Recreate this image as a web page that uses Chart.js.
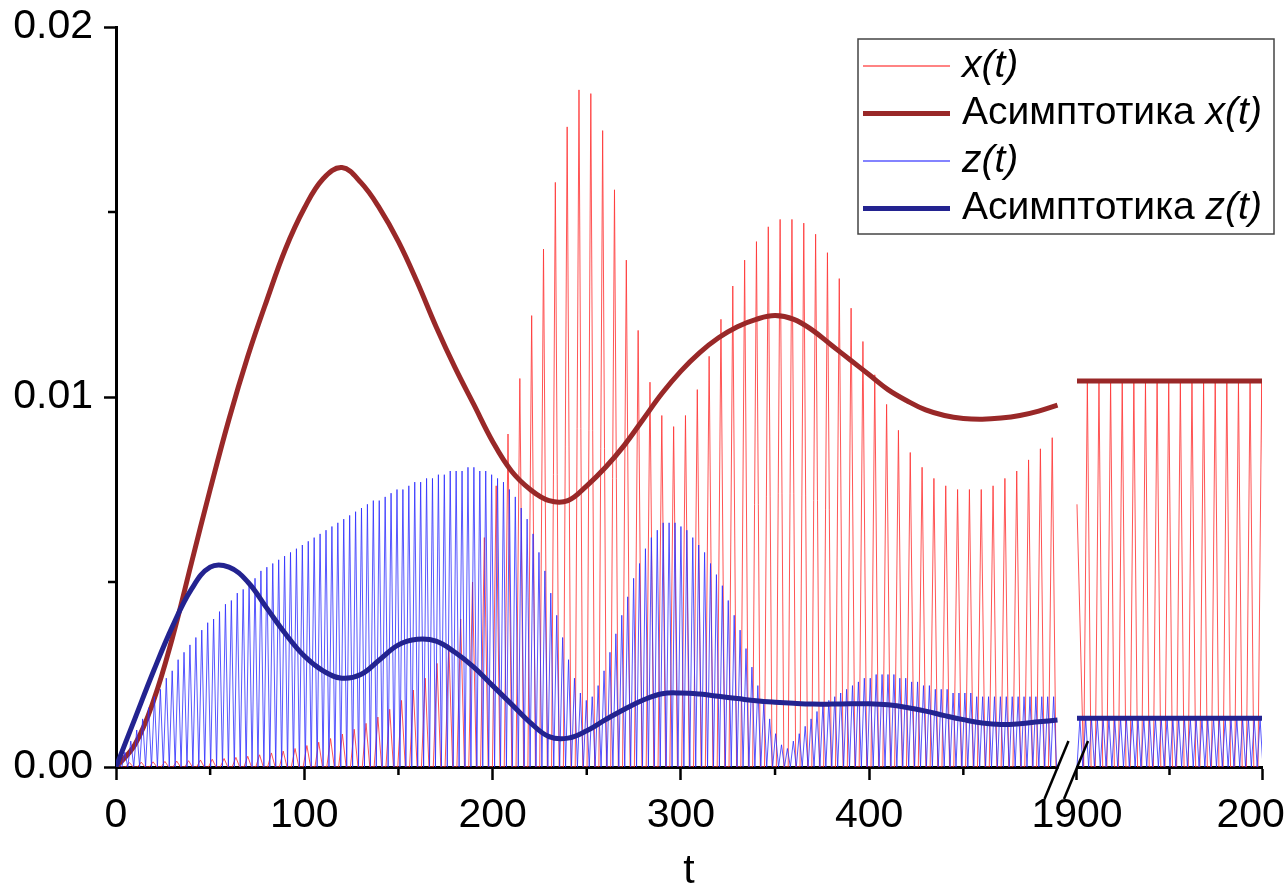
<!DOCTYPE html>
<html>
<head>
<meta charset="utf-8">
<script src="https://cdn.jsdelivr.net/npm/chart.js@4.4.1/dist/chart.umd.min.js"></script>
<style>
  html, body { margin: 0; padding: 0; background: #fff; }
</style>
</head>
<body>
<canvas id="chart" width="1286" height="892"></canvas>
<script>
/* data */

// x(t): one peak per period on 0..500 and on 1900..2000
const X_PERIOD = 6.283;
const X_FIRST_PEAK = 7.13;
const xPeaksLeft = [
  0.00012, 0.00013, 0.00014, 0.00015, 0.00016, 0.00017, 0.00019, 0.00021, 0.00023, 0.00026,
  0.00029, 0.00033, 0.00038, 0.00043, 0.00050, 0.00058, 0.00067, 0.00077, 0.00089, 0.00102,
  0.00118, 0.00135, 0.00156, 0.00180, 0.00208, 0.00240, 0.00280, 0.0033, 0.0040, 0.0050,
  0.0062, 0.0076, 0.0090, 0.0105, 0.0122, 0.0140, 0.0158, 0.0173, 0.0183, 0.0182,
  0.0172, 0.0156, 0.0137, 0.0118, 0.0104, 0.0095, 0.0092, 0.0095, 0.0102, 0.0111,
  0.0121, 0.0130, 0.0137, 0.0142, 0.0146, 0.0148, 0.0148, 0.0147, 0.0144, 0.0139,
  0.0132, 0.0124, 0.0115, 0.0106, 0.0098, 0.0091, 0.0085, 0.0081, 0.0078, 0.0076,
  0.0075, 0.0075, 0.0075, 0.0076, 0.0078, 0.0080, 0.0083, 0.0086, 0.0089
];
const X_RIGHT_START = 0.0071;
const X_RIGHT_FIRST_PEAK = 1905.6;
const xPeaksRight = [
  0.0104, 0.0104, 0.0104, 0.0104, 0.0104, 0.0104, 0.0104, 0.0104,
  0.0104, 0.0104, 0.0104, 0.0104, 0.0104, 0.0104, 0.0104, 0.0104
];

// z(t): one peak per period
const Z_PERIOD = 3.1416;
const zPeaksLeft = [
  0.0001, 0.0004, 0.0007, 0.0010, 0.0013, 0.0016, 0.0019, 0.0021, 0.0024, 0.0026,
  0.0029, 0.0031, 0.0033, 0.0035, 0.0037, 0.0039, 0.0040, 0.0042, 0.0044, 0.0045,
  0.0047, 0.0048, 0.0050, 0.0051, 0.0053, 0.0054, 0.0055, 0.0056, 0.0057, 0.0058,
  0.0059, 0.0060, 0.0061, 0.0062, 0.0063, 0.0064, 0.0065, 0.0066, 0.0067, 0.0068,
  0.0069, 0.0070, 0.0071, 0.0072, 0.0072, 0.0073, 0.0074, 0.0075, 0.0075, 0.0076,
  0.0077, 0.0077, 0.0078, 0.0078, 0.0079, 0.0079, 0.0080, 0.0080, 0.0080, 0.0081,
  0.0081, 0.0080, 0.0080, 0.0079, 0.0078, 0.0077, 0.0075, 0.0073, 0.0070, 0.0067,
  0.0063, 0.0058, 0.0053, 0.0047, 0.0041, 0.0035, 0.0029, 0.0024, 0.0020, 0.0018,
  0.0019, 0.0022, 0.0026, 0.0031, 0.0036, 0.0041, 0.0046, 0.0051, 0.0055, 0.0059,
  0.0062, 0.0064, 0.0066, 0.0066, 0.0066, 0.0065, 0.0064, 0.0062, 0.0060, 0.0058,
  0.0055, 0.0052, 0.0049, 0.0045, 0.0041, 0.0037, 0.0032, 0.0027, 0.0022, 0.0017,
  0.0013, 0.0009, 0.0006, 0.0005, 0.0007, 0.0009, 0.0011, 0.0013, 0.0015, 0.0017,
  0.0018, 0.0019, 0.0020, 0.0021, 0.0022, 0.0023, 0.0024, 0.0024, 0.0025, 0.0025,
  0.0025, 0.0025, 0.0024, 0.0024, 0.0023, 0.0023, 0.0022, 0.0022, 0.0021, 0.0021,
  0.0021, 0.0020, 0.0020, 0.0020, 0.0020, 0.0019, 0.0019, 0.0019, 0.0019, 0.0019,
  0.0019, 0.0019, 0.0019, 0.0019, 0.0019, 0.0019, 0.0019, 0.0019, 0.0019
];
const zPeaksRight = [
  0.0013, 0.0013, 0.0013, 0.0013, 0.0013, 0.0013, 0.0013, 0.0013,
  0.0013, 0.0013, 0.0013, 0.0013, 0.0013, 0.0013, 0.0013, 0.0013,
  0.0013, 0.0013, 0.0013, 0.0013, 0.0013, 0.0013, 0.0013, 0.0013,
  0.0013, 0.0013, 0.0013, 0.0013, 0.0013, 0.0013, 0.0013, 0.0013
];

// asymptotics, sampled every 10 time units on 0..500
const asymT = [
  0, 10, 20, 30, 40, 50, 60, 70, 80, 90, 100, 110, 120, 130, 140, 150, 160, 170, 180, 190,
  200, 210, 220, 230, 240, 250, 260, 270, 280, 290, 300, 310, 320, 330, 340, 350, 360, 370, 380, 390,
  400, 410, 420, 430, 440, 450, 460, 470, 480, 490, 500
];
const asymXV = [
  0, 0.0006, 0.0018, 0.0035, 0.0055, 0.0075, 0.0094, 0.0111, 0.0126, 0.0140,
  0.0151, 0.0159, 0.0162, 0.0158, 0.0151, 0.0142, 0.0131, 0.0119, 0.0108, 0.0098,
  0.0088, 0.0080, 0.0075, 0.0072, 0.0072, 0.0076, 0.0081, 0.0087, 0.0094, 0.0101,
  0.0107, 0.0112, 0.0116, 0.0119, 0.0121, 0.0122, 0.0121, 0.0118, 0.0114, 0.0110,
  0.0106, 0.0102, 0.0099, 0.00965, 0.0095, 0.00942, 0.0094, 0.00943, 0.0095, 0.00962, 0.00978
];
const asymZV = [
  0, 0.0013, 0.0026, 0.0038, 0.0048, 0.0054, 0.0054, 0.0050, 0.0043, 0.0036,
  0.0030, 0.0026, 0.0024, 0.0025, 0.0029, 0.0033, 0.00345, 0.0034, 0.0031, 0.0027,
  0.0022, 0.0017, 0.0012, 0.00082, 0.00078, 0.00098, 0.00128, 0.00156, 0.00181, 0.00198,
  0.00200, 0.00197, 0.00191, 0.00185, 0.00179, 0.00175, 0.00172, 0.00170, 0.00170, 0.00171,
  0.00171, 0.00168, 0.00161, 0.00151, 0.00139, 0.00128, 0.00119, 0.00115, 0.00117, 0.00122, 0.00127
];
const asymRightT = [1900, 2000];
const asymXRight = [0.01043, 0.01043];
const asymZRight = [0.00132, 0.00132];

// ticks
const xMajorTicks = [0, 100, 200, 300, 400, 1900, 2000];
const xMinorTicks = [50, 150, 250, 350, 450, 1950];
const yMajorTicks = [0, 0.01, 0.02];
const yMinorTicks = [0.005, 0.015];

/* broken time axis: 0..500 | 1900..2000 on one linear scale */
const BREAK_AT = 500;
const RIGHT_FROM = 1900;
const axisPos = t => t <= BREAK_AT ? t : 510.36 + (t - RIGHT_FROM) * 0.9825;

const pulses = (peaks, firstPeak, period, halfWidth) => {
  const pts = [];
  peaks.forEach((p, i) => {
    const tc = firstPeak + i * period;
    pts.push({ x: axisPos(tc - halfWidth), y: 0 });
    pts.push({ x: axisPos(tc), y: p });
    pts.push({ x: axisPos(tc + halfWidth), y: 0 });
  });
  return pts;
};

const zigzag = (peaks, start, period) => {
  const pts = [{ x: axisPos(start), y: 0 }];
  peaks.forEach((p, i) => {
    pts.push({ x: axisPos(start + (i + 0.5) * period), y: p });
    pts.push({ x: axisPos(start + (i + 1) * period), y: 0 });
  });
  return pts;
};

const gap = { x: axisPos(505), y: null };

const xSeries = [{ x: 0, y: 0 }]
  .concat(pulses(xPeaksLeft, X_FIRST_PEAK, X_PERIOD, 2.0))
  .concat([gap, { x: axisPos(RIGHT_FROM), y: X_RIGHT_START }])
  .concat(pulses(xPeaksRight, X_RIGHT_FIRST_PEAK, X_PERIOD, 2.0));

const zSeries = zigzag(zPeaksLeft, 0, Z_PERIOD)
  .concat([gap])
  .concat(zigzag(zPeaksRight, RIGHT_FROM, Z_PERIOD));

const asymPoints = (ts, vs) => ts.map((t, i) => ({ x: axisPos(t), y: vs[i] }));
const asymX = asymPoints(asymT, asymXV).concat([gap], asymPoints(asymRightT, asymXRight));
const asymZ = asymPoints(asymT, asymZV).concat([gap], asymPoints(asymRightT, asymZRight));

const FONT = "'Liberation Sans', Arial, sans-serif";

/* minor ticks, axis break and legend */
const extras = {
  id: 'extras',
  afterDraw(chart) {
    const { ctx, scales: { x, y } } = chart;
    const x0 = x.left, y0 = y.bottom;
    ctx.save();
    ctx.strokeStyle = '#000';
    ctx.lineWidth = 2.5;
    xMinorTicks.forEach(t => {
      const px = x.getPixelForValue(axisPos(t));
      ctx.beginPath(); ctx.moveTo(px, y0); ctx.lineTo(px, y0 + 8); ctx.stroke();
    });
    yMinorTicks.forEach(v => {
      const py = y.getPixelForValue(v);
      ctx.beginPath(); ctx.moveTo(x0, py); ctx.lineTo(x0 - 8, py); ctx.stroke();
    });

    // break in the time axis
    const b1 = x.getPixelForValue(axisPos(BREAK_AT));
    const b2 = x.getPixelForValue(axisPos(RIGHT_FROM));
    ctx.fillStyle = '#fff';
    ctx.fillRect(b1 + 1, y0 - 3, b2 - b1 - 2, 7);
    ctx.lineWidth = 2.5;
    [b1, b2].forEach(bx => {
      ctx.beginPath(); ctx.moveTo(bx - 13, y0 + 32); ctx.lineTo(bx + 11, y0 - 26); ctx.stroke();
    });

    // legend
    const bx = 858, by = 39, bw = 416, bh = 195;
    ctx.fillStyle = '#fff';
    ctx.fillRect(bx, by, bw, bh);
    ctx.strokeStyle = '#444';
    ctx.lineWidth = 1.5;
    ctx.strokeRect(bx, by, bw, bh);
    ctx.textBaseline = 'middle';
    chart.data.datasets.forEach((ds, i) => {
      const ry = 66 + i * 47.5;
      ctx.strokeStyle = ds.legendColor || ds.borderColor;
      ctx.lineWidth = ds.borderWidth > 2 ? 5 : 1.5;
      ctx.beginPath(); ctx.moveTo(863, ry); ctx.lineTo(950, ry); ctx.stroke();
      const cut = ds.label.lastIndexOf(' ');
      const plain = cut >= 0 ? ds.label.slice(0, cut + 1) : '';
      const ital = ds.label.slice(cut + 1);
      ctx.fillStyle = '#000';
      ctx.font = '39px ' + FONT;
      ctx.fillText(plain, 962, ry);
      const w = ctx.measureText(plain).width;
      ctx.font = 'italic 39px ' + FONT;
      ctx.fillText(ital, 962 + w, ry);
    });
    ctx.restore();
  }
};

new Chart('chart', {
  type: 'line',
  data: {
    datasets: [
      { label: 'x(t)', data: xSeries, borderColor: 'rgba(255,55,55,0.85)', legendColor: '#ff5a5a', borderWidth: 1, order: 3 },
      { label: 'Асимптотика x(t)', data: asymX, borderColor: '#992828', borderWidth: 5, order: 2, tension: 0.4 },
      { label: 'z(t)', data: zSeries, borderColor: 'rgba(45,45,255,0.8)', legendColor: '#5a5aff', borderWidth: 1, order: 1 },
      { label: 'Асимптотика z(t)', data: asymZ, borderColor: '#232390', borderWidth: 5, order: 0, tension: 0.4 }
    ]
  },
  options: {
    responsive: false,
    animation: false,
    devicePixelRatio: 1,
    spanGaps: false,
    elements: { point: { radius: 0 }, line: { tension: 0 } },
    layout: { padding: { top: 27, right: 24, left: 0, bottom: 0 } },
    plugins: { legend: { display: false }, tooltip: { enabled: false } },
    scales: {
      x: {
        type: 'linear',
        min: 0,
        max: axisPos(2000),
        afterBuildTicks: s => { s.ticks = xMajorTicks.map(t => ({ value: axisPos(t) })); },
        afterFit: s => { s.height = 125; s.paddingLeft = 0; s.paddingRight = 0; },
        ticks: {
          autoSkip: false, maxRotation: 0, padding: 11, color: '#000',
          font: { family: FONT, size: 41 },
          callback: (v, i) => String(xMajorTicks[i])
        },
        grid: { drawOnChartArea: false, tickLength: 13, tickWidth: 2.5, tickColor: '#000' },
        border: { color: '#000', width: 3 },
        title: { display: true, text: 't', color: '#000', font: { family: FONT, size: 41, lineHeight: 1 }, padding: { top: 0, bottom: 0 } }
      },
      y: {
        min: 0,
        max: 0.02,
        afterBuildTicks: s => { s.ticks = yMajorTicks.map(v => ({ value: v })); },
        afterFit: s => { s.width = 116; s.paddingTop = 0; s.paddingBottom = 0; },
        ticks: {
          padding: 11, color: '#000',
          font: { family: FONT, size: 41 },
          callback: v => v.toFixed(2)
        },
        grid: { drawOnChartArea: false, tickLength: 12, tickWidth: 2.5, tickColor: '#000' },
        border: { color: '#000', width: 3 }
      }
    }
  },
  plugins: [extras]
});
</script>
</body>
</html>
